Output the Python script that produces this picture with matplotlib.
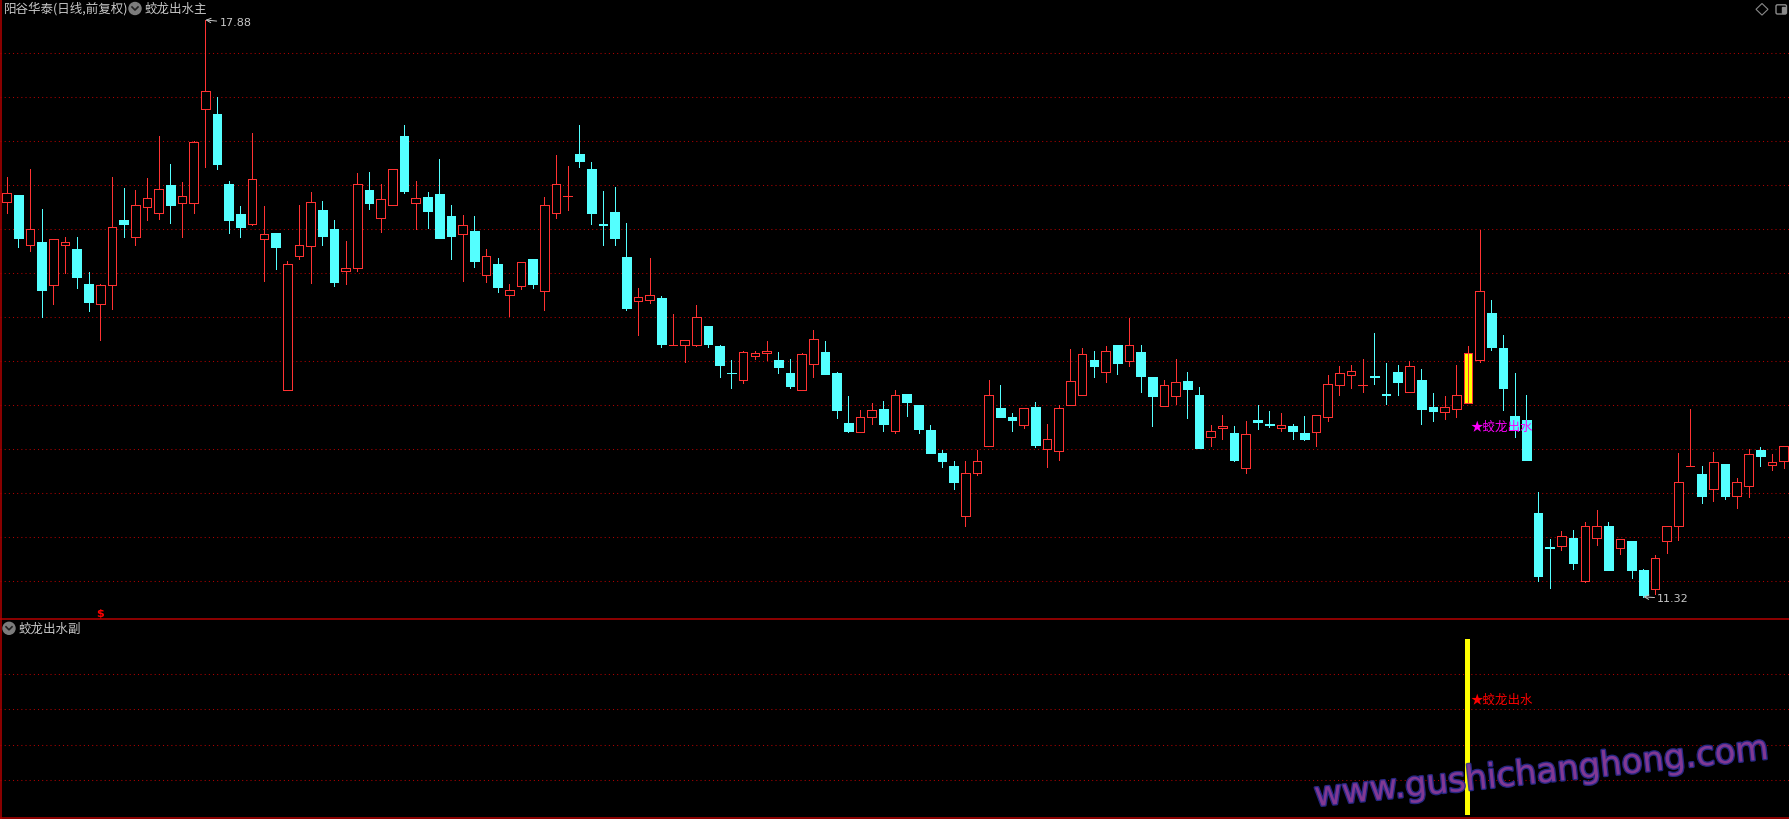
import matplotlib
matplotlib.use('Agg')
import matplotlib.pyplot as plt
from matplotlib.patches import Rectangle, Circle, Polygon, FancyBboxPatch
from matplotlib.transforms import blended_transform_factory
import matplotlib.patheffects as pe

plt.rcParams['font.family'] = ['Noto Sans CJK SC', 'DejaVu Sans']

# ---------------- text ----------------
stock_title = '阳谷华泰(日线,前复权)'
main_indicator = '蛟龙出水主'
sub_indicator = '蛟龙出水副'
signal_text = '★蛟龙出水'
sell_text = '$'
watermark = 'www.gushichanghong.com'

# ---------------- data (daily OHLC) ----------------
opens = [15.81, 15.89, 15.32, 15.36, 14.87, 15.32, 15.28, 14.88, 14.65, 14.87,
         15.60, 15.41, 15.75, 15.69, 16.00, 15.80, 15.80, 16.87, 16.81, 16.01,
         15.67, 15.56, 15.39, 15.46, 13.67, 15.20, 15.31, 15.72, 15.50, 15.03,
         15.06, 15.95, 15.63, 15.78, 16.56, 15.80, 15.87, 15.90, 15.65, 15.45,
         15.48, 14.98, 15.10, 14.75, 14.85, 15.16, 14.80, 15.68, 15.88, 16.36,
         16.19, 15.56, 15.70, 15.18, 14.68, 14.70, 14.72, 14.18, 14.18, 14.18,
         14.40, 14.17, 13.87, 13.79, 14.06, 14.09, 14.01, 13.87, 13.67, 13.97,
         14.10, 13.86, 13.30, 13.19, 13.37, 13.45, 13.21, 13.63, 13.50, 13.22,
         12.96, 12.81, 12.24, 12.73, 13.04, 13.47, 13.37, 13.27, 13.48, 13.00,
         12.98, 13.50, 13.61, 14.01, 13.88, 14.18, 14.00, 14.10, 13.82, 13.49,
         13.60, 13.77, 13.61, 13.14, 13.24, 13.18, 12.79, 13.33, 13.28, 13.24,
         13.26, 13.18, 13.19, 13.37, 13.73, 13.84, 13.73, 13.83, 13.63, 13.88,
         13.65, 13.79, 13.48, 13.42, 13.46, 13.52, 14.01, 14.55, 14.15, 13.38,
         13.33, 12.27, 11.89, 11.90, 11.99, 11.50, 11.99, 12.13, 11.88, 11.96,
         11.63, 11.41, 11.96, 12.12, 12.81, 12.72, 12.55, 12.83, 12.47, 12.58,
         12.99, 12.82, 12.86]

highs = [16.09, 15.89, 16.19, 15.73, 15.39, 15.41, 15.41, 15.01, 14.88, 16.09,
         15.97, 15.95, 16.08, 16.56, 16.24, 16.04, 16.50, 17.88, 17.00, 16.05,
         15.76, 16.59, 15.76, 15.46, 15.14, 15.77, 15.92, 15.82, 15.60, 15.37,
         16.14, 16.15, 16.02, 16.19, 16.69, 16.05, 15.92, 16.30, 15.78, 15.66,
         15.65, 15.27, 15.17, 14.88, 15.13, 15.16, 15.87, 16.34, 16.22, 16.69,
         16.26, 15.94, 15.98, 15.57, 14.83, 15.17, 14.74, 14.54, 14.24, 14.64,
         14.40, 14.18, 14.01, 14.12, 14.12, 14.23, 14.10, 14.02, 14.09, 14.35,
         14.23, 13.88, 13.60, 13.44, 13.52, 13.55, 13.67, 13.63, 13.50, 13.27,
         12.99, 12.86, 12.86, 12.99, 13.79, 13.73, 13.41, 13.47, 13.53, 13.28,
         13.50, 14.14, 14.15, 14.11, 14.17, 14.18, 14.49, 14.18, 13.82, 13.79,
         14.02, 13.88, 13.71, 13.27, 13.39, 13.26, 13.32, 13.50, 13.43, 13.41,
         13.29, 13.38, 13.39, 13.84, 13.95, 13.96, 14.02, 14.32, 13.98, 13.96,
         14.00, 13.91, 13.64, 13.60, 13.96, 14.17, 15.49, 14.70, 14.30, 13.86,
         13.61, 12.51, 11.98, 12.07, 12.08, 12.17, 12.31, 12.17, 11.98, 11.96,
         11.64, 11.80, 12.13, 12.95, 13.45, 12.81, 12.97, 12.83, 12.67, 13.00,
         13.02, 12.94, 13.04]

lows = [15.68, 15.30, 15.25, 14.50, 14.65, 15.00, 14.83, 14.57, 14.24, 14.59,
        15.41, 15.32, 15.61, 15.62, 15.57, 15.41, 15.68, 16.21, 16.19, 15.46,
        15.41, 15.55, 14.91, 15.05, 13.67, 15.16, 14.89, 15.32, 14.86, 14.88,
        15.03, 15.73, 15.47, 15.78, 15.91, 15.50, 15.51, 15.40, 15.16, 14.91,
        15.07, 14.90, 14.79, 14.51, 14.82, 14.83, 14.58, 15.63, 15.72, 16.21,
        15.56, 15.32, 15.32, 14.58, 14.30, 14.66, 14.16, 14.18, 13.99, 14.17,
        14.16, 13.82, 13.69, 13.75, 14.02, 14.01, 13.87, 13.70, 13.67, 13.82,
        13.85, 13.35, 13.19, 13.19, 13.28, 13.20, 13.18, 13.38, 13.18, 12.95,
        12.80, 12.55, 12.12, 12.71, 13.04, 13.36, 13.20, 13.24, 13.02, 12.80,
        12.88, 13.50, 13.61, 13.82, 13.76, 13.85, 13.95, 13.65, 13.26, 13.49,
        13.51, 13.35, 13.01, 13.03, 13.12, 12.86, 12.73, 13.23, 13.25, 13.20,
        13.11, 13.10, 13.03, 13.32, 13.61, 13.69, 13.65, 13.74, 13.51, 13.61,
        13.65, 13.28, 13.32, 13.34, 13.36, 13.52, 13.99, 14.13, 13.44, 13.14,
        12.88, 11.50, 11.42, 11.85, 11.64, 11.49, 11.91, 11.63, 11.81, 11.53,
        11.32, 11.35, 11.82, 11.97, 12.81, 12.39, 12.41, 12.43, 12.33, 12.46,
        12.81, 12.76, 12.79]

closes = [15.91, 15.40, 15.50, 14.81, 15.39, 15.36, 14.96, 14.67, 14.87, 15.53,
          15.56, 15.77, 15.86, 15.96, 15.77, 15.88, 16.49, 17.07, 16.24, 15.61,
          15.53, 16.07, 15.45, 15.30, 15.10, 15.32, 15.81, 15.42, 14.90, 15.06,
          16.02, 15.80, 15.84, 16.19, 15.94, 15.86, 15.71, 15.40, 15.42, 15.55,
          15.14, 15.19, 14.84, 14.81, 15.13, 14.88, 15.78, 16.02, 15.88, 16.28,
          15.69, 15.55, 15.40, 14.60, 14.73, 14.75, 14.19, 14.18, 14.24, 14.50,
          14.19, 13.96, 13.86, 14.10, 14.09, 14.12, 13.93, 13.72, 14.08, 14.25,
          13.85, 13.44, 13.20, 13.37, 13.44, 13.29, 13.61, 13.53, 13.23, 12.96,
          12.86, 12.63, 12.73, 12.86, 13.61, 13.37, 13.33, 13.47, 13.05, 13.11,
          13.47, 13.77, 14.08, 13.94, 14.11, 13.98, 14.18, 13.83, 13.60, 13.73,
          13.76, 13.68, 13.01, 13.21, 13.26, 12.88, 13.17, 13.31, 13.27, 13.27,
          13.20, 13.12, 13.39, 13.74, 13.86, 13.89, 13.73, 13.82, 13.62, 13.76,
          13.95, 13.46, 13.43, 13.48, 13.62, 14.09, 14.80, 14.16, 13.69, 13.22,
          12.88, 11.56, 11.88, 12.01, 11.70, 12.13, 12.12, 11.63, 11.98, 11.62,
          11.34, 11.76, 12.13, 12.63, 12.81, 12.47, 12.85, 12.47, 12.63, 12.94,
          12.92, 12.85, 13.04]

signal_index = [125]        # bar where the "蛟龙出水" signal fires
signal_value = [1.0]        # sub-panel stick height
sell_index = [8]            # red "$" marker
main_grid = [11.5, 12.0, 12.5, 13.0, 13.5, 14.0, 14.5, 15.0, 15.5, 16.0, 16.5, 17.0, 17.5]
sub_grid = [0.2, 0.4, 0.6, 0.8]

# ---------------- style ----------------
W, H, DPI = 1790, 819, 100
UP = '#FF3232'
DOWN = '#54FFFF'
GRID = '#B00000'
FRAME = '#B40000'
TXT = '#C8C8C8'
ICON = '#7C7C7C'

fig = plt.figure(figsize=(W / DPI, H / DPI), dpi=DPI, facecolor='black')

SEP = 619.3     # pixel row of the panel separator
n = len(opens)
XL = (-0.5706, 152.55)

# ---------------- main panel ----------------
ax = fig.add_axes([0, (H - SEP) / H, 1, SEP / H])
ax.set_facecolor('black')
ax.set_xlim(*XL)
ax.set_ylim(11.064, 18.107)
ax.set_xticks([]); ax.set_yticks([])
for s in ax.spines.values():
    s.set_visible(False)

for g in main_grid:
    ax.axhline(g, color=GRID, lw=0.75, linestyle=(0, (1, 3)), zorder=1)

bw = 0.74
lw_wick = 0.7
lw_edge = 0.55
for i, (o, h, l, c) in enumerate(zip(opens, highs, lows, closes)):
    top, bot = max(o, c), min(o, c)
    if c >= o:
        col = UP
        ax.vlines(i, top, h, color=col, lw=lw_wick, antialiased=False, zorder=3)
        ax.vlines(i, l, bot, color=col, lw=lw_wick, antialiased=False, zorder=3)
        face = '#FFFF00' if i in signal_index else 'black'
        ax.add_patch(Rectangle((i - bw / 2, bot), bw, top - bot, facecolor=face,
                               edgecolor=col, lw=lw_edge, antialiased=False, zorder=4))
        if i in signal_index:
            ax.vlines(i, bot, top, color=col, lw=lw_wick, antialiased=False, zorder=5)
    else:
        col = DOWN
        ax.vlines(i, l, h, color=col, lw=lw_wick, antialiased=False, zorder=3)
        ax.add_patch(Rectangle((i - bw / 2, bot), bw, top - bot, facecolor=col,
                               edgecolor=col, lw=0.4, antialiased=False, zorder=4))

hi_idx = max(range(n), key=lambda k: highs[k])
lo_idx = min(range(n), key=lambda k: lows[k])
ax.annotate(f'{highs[hi_idx]:.2f}', xy=(hi_idx, highs[hi_idx]), xytext=(14, -3),
            textcoords='offset pixels', color=TXT, fontsize=8, family='DejaVu Sans',
            ha='left', va='center', zorder=7,
            arrowprops=dict(arrowstyle='->', color=TXT, lw=0.7, shrinkA=0, shrinkB=0))
ax.annotate(f'{lows[lo_idx]:.2f}', xy=(lo_idx, lows[lo_idx]), xytext=(14, -2),
            textcoords='offset pixels', color=TXT, fontsize=8, family='DejaVu Sans',
            ha='left', va='center', zorder=7,
            arrowprops=dict(arrowstyle='->', color=TXT, lw=0.7, shrinkA=0, shrinkB=0))

for i in signal_index:
    ax.annotate(signal_text, xy=(i, lows[i] * 0.98), xytext=(3, 0),
                textcoords='offset pixels', color='#FF00FF', fontsize=9,
                ha='left', va='center', zorder=8)

trb = blended_transform_factory(ax.transData, ax.transAxes)
for i in sell_index:
    ax.text(i, 0.009, sell_text, transform=trb, color='#FF0000', fontsize=8,
            fontweight='bold', family='DejaVu Sans', ha='center', va='center', zorder=8)

# ---------------- sub panel ----------------
bx = fig.add_axes([0, 0, 1, (H - SEP) / H])
bx.set_facecolor('black')
bx.set_xlim(*XL)
bx.set_ylim(-0.023, 1.112)
bx.set_xticks([]); bx.set_yticks([])
for s in bx.spines.values():
    s.set_visible(False)
for g in sub_grid:
    bx.axhline(g, color=GRID, lw=0.75, linestyle=(0, (1, 3)), zorder=1)
bx.bar(signal_index, signal_value, width=0.42, color='#FFFF00', antialiased=False, zorder=3)
for i in signal_index:
    bx.annotate(signal_text, xy=(i, 0.65), xytext=(3, 0), textcoords='offset pixels',
                color='#FF0000', fontsize=9, ha='left', va='center', zorder=6)

# ---------------- overlay (pixel coordinates) ----------------
ov = fig.add_axes([0, 0, 1, 1])
ov.set_xlim(0, W)
ov.set_ylim(H, 0)
ov.axis('off')
ov.patch.set_alpha(0)

ov.plot([0, W], [SEP, SEP], color=FRAME, lw=1.1, solid_capstyle='butt')
ov.plot([0, W], [H - 0.7, H - 0.7], color=FRAME, lw=1.1, solid_capstyle='butt')
ov.plot([0.7, 0.7], [0, H], color=FRAME, lw=1.1, solid_capstyle='butt')

ov.text(4, 9, stock_title, color=TXT, fontsize=9, ha='left', va='center')
ov.add_patch(Circle((135, 8.5), 6, color=ICON))
ov.plot([132, 135, 138], [7, 10, 7], color='#202020', lw=1.2)
ov.text(145, 9, main_indicator, color=TXT, fontsize=9, ha='left', va='center')

ov.add_patch(Circle((9, 628.3), 6, color=ICON))
ov.plot([6, 9, 12], [626.8, 629.8, 626.8], color='#202020', lw=1.2)
ov.text(19, 629, sub_indicator, color=TXT, fontsize=9, ha='left', va='center')

ov.add_patch(Polygon([(1756, 9.3), (1762, 3.5), (1768, 9.3), (1762, 15.1)],
                     closed=True, fill=False, edgecolor='#8A8A8A', lw=0.8))
ov.add_patch(FancyBboxPatch((1776, 4.8), 10.5, 9.2, boxstyle='round,pad=0,rounding_size=1.5',
                            fill=False, edgecolor='#8A8A8A', lw=1.0))
ov.add_patch(Rectangle((1782, 6.5), 3, 6, color='#8A8A8A'))

ov.text(1541, 773, watermark, rotation=6, rotation_mode='anchor', fontsize=24.5,
        family='DejaVu Sans', color='#8A3A94', alpha=0.9, ha='center', va='center',
        path_effects=[pe.Stroke(linewidth=2.0, foreground='#2B2B90'), pe.Normal()])

fig.savefig('out.png', dpi=DPI, facecolor='black')
